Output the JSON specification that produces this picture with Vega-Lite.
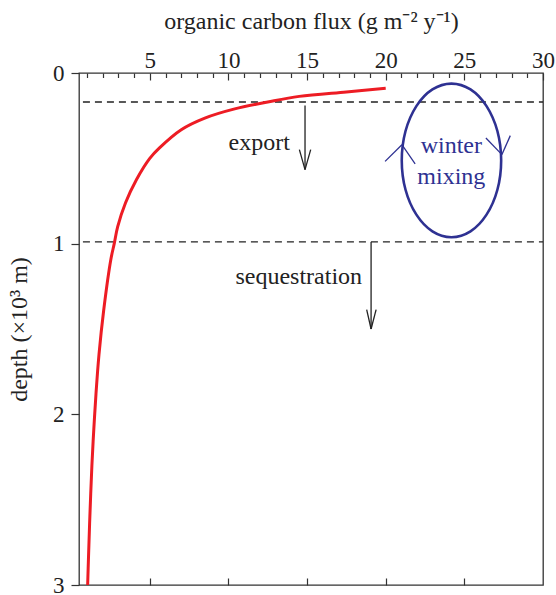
{
  "$schema": "https://vega.github.io/schema/vega-lite/v6.json",
  "width": 464,
  "height": 512,
  "autosize": {"type": "none"},
  "padding": {"left": 79, "top": 73, "right": 13, "bottom": 10},
  "background": "white",
  "config": {
    "view": {"stroke": "#333", "strokeWidth": 1.3},
    "font": "Liberation Serif",
    "axis": {"labelFont": "Liberation Serif", "titleFont": "Liberation Serif", "labelFontSize": 23, "titleFontSize": 24, "titleFontWeight": "normal", "labelColor": "#222", "titleColor": "#222", "tickColor": "#333", "tickWidth": 1.2, "domain": false, "grid": false}
  },
  "datasets": {
    "curve": [
      {"flux": 20.0, "depth": 0.09}, {"flux": 17.5, "depth": 0.111}, {"flux": 14.5, "depth": 0.137},
      {"flux": 12.5, "depth": 0.17}, {"flux": 10.4, "depth": 0.21}, {"flux": 8.5, "depth": 0.264},
      {"flux": 7.0, "depth": 0.332}, {"flux": 5.6, "depth": 0.44}, {"flux": 5.0, "depth": 0.5},
      {"flux": 4.15, "depth": 0.625}, {"flux": 3.46, "depth": 0.76}, {"flux": 2.96, "depth": 0.9},
      {"flux": 2.74, "depth": 1.0}, {"flux": 2.53, "depth": 1.09}, {"flux": 2.07, "depth": 1.39},
      {"flux": 1.77, "depth": 1.65}, {"flux": 1.58, "depth": 1.88}, {"flux": 1.44, "depth": 2.09},
      {"flux": 1.32, "depth": 2.3}, {"flux": 1.19, "depth": 2.6}, {"flux": 1.1, "depth": 2.85},
      {"flux": 1.05, "depth": 3.0}
    ],
    "levels": [
      {"flux": 0.75, "flux2": 30, "depth": 0.17},
      {"flux": 0.75, "flux2": 30, "depth": 0.99}
    ],
    "ellipse": [
      {"order": 0, "flux": 27.34, "depth": 0.512}, {"order": 1, "flux": 27.10, "depth": 0.684},
      {"order": 2, "flux": 26.41, "depth": 0.830}, {"order": 3, "flux": 25.39, "depth": 0.928},
      {"order": 4, "flux": 24.18, "depth": 0.962}, {"order": 5, "flux": 22.97, "depth": 0.928},
      {"order": 6, "flux": 21.95, "depth": 0.830}, {"order": 7, "flux": 21.26, "depth": 0.684},
      {"order": 8, "flux": 21.02, "depth": 0.512}, {"order": 9, "flux": 21.26, "depth": 0.340},
      {"order": 10, "flux": 21.95, "depth": 0.194}, {"order": 11, "flux": 22.97, "depth": 0.096},
      {"order": 12, "flux": 24.18, "depth": 0.062}, {"order": 13, "flux": 25.39, "depth": 0.096},
      {"order": 14, "flux": 26.41, "depth": 0.194}, {"order": 15, "flux": 27.10, "depth": 0.340}
    ],
    "arrows": [
      {"flux": 14.87, "depth": 0.19, "flux2": 14.87, "depth2": 0.566},
      {"flux": 14.51, "depth": 0.449, "flux2": 14.87, "depth2": 0.566},
      {"flux": 15.23, "depth": 0.449, "flux2": 14.87, "depth2": 0.566},
      {"flux": 19.07, "depth": 0.99, "flux2": 19.07, "depth2": 1.5},
      {"flux": 18.79, "depth": 1.386, "flux2": 19.07, "depth2": 1.5},
      {"flux": 19.39, "depth": 1.386, "flux2": 19.07, "depth2": 1.5}
    ],
    "flowticks": [
      {"flux": 19.96, "depth": 0.518, "flux2": 21.03, "depth2": 0.420},
      {"flux": 21.03, "depth": 0.420, "flux2": 21.87, "depth2": 0.533},
      {"flux": 26.37, "depth": 0.381, "flux2": 27.39, "depth2": 0.478},
      {"flux": 27.92, "depth": 0.367, "flux2": 27.39, "depth2": 0.478}
    ],
    "labels": [
      {"flux": 11.96, "depth": 0.45, "text": "export"},
      {"flux": 14.47, "depth": 1.235, "text": "sequestration"}
    ],
    "bluelabels": [
      {"flux": 24.17, "depth": 0.468, "text": "winter"},
      {"flux": 24.17, "depth": 0.648, "text": "mixing"}
    ]
  },
  "encoding": {
    "x": {
      "field": "flux", "type": "quantitative",
      "scale": {"domain": [0.5, 30], "nice": false, "zero": false},
      "axis": null
    },
    "y": {
      "field": "depth", "type": "quantitative",
      "scale": {"domain": [0, 3], "reverse": true, "nice": false, "zero": false},
      "axis": {
        "orient": "left",
        "title": "depth (×10³ m)",
        "titleFontWeight": "normal",
        "values": [0, 1, 2, 3],
        "tickSize": 8,
        "labelPadding": 7,
        "titlePadding": 21,
        "labelFlush": false
      }
    }
  },
  "layer": [
    {
      "data": {"name": "levels"},
      "mark": {"type": "rule", "color": "#222", "strokeWidth": 1.3, "strokeDash": [7, 5]},
      "encoding": {
        "x": {
          "field": "flux", "type": "quantitative",
          "scale": {"domain": [0.5, 30], "nice": false, "zero": false},
          "axis": {
            "orient": "top",
            "title": "organic carbon flux (g m⁻² y⁻¹)",
            "titleFontWeight": "normal",
            "values": [1,2,3,4,5,6,7,8,9,10,11,12,13,14,15,16,17,18,19,20,21,22,23,24,25,26,27,28,29,30],
            "labelExpr": "datum.value % 5 === 0 ? datum.label : ''",
            "tickSize": {"condition": {"test": "datum.value % 5 === 0", "value": -7}, "value": -4.5},
            "labelPadding": 8,
            "titlePadding": 16,
            "labelFlush": false
          }
        },
        "x2": {"field": "flux2"}
      }
    },
    {
      "data": {"name": "arrows"},
      "mark": {"type": "rule", "color": "#222", "strokeWidth": 1.3},
      "encoding": {
        "x": {
          "field": "flux", "type": "quantitative",
          "scale": {"domain": [0.5, 30], "nice": false, "zero": false},
          "axis": {"orient": "bottom", "title": null, "values": [5, 10, 15, 20, 25], "labels": false, "tickSize": -7}
        },
        "x2": {"field": "flux2"}, "y2": {"field": "depth2"}
      }
    },
    {
      "data": {"name": "curve"},
      "mark": {"type": "line", "color": "#ed1c24", "strokeWidth": 3, "interpolate": "catmull-rom"},
      "encoding": {"order": {"field": "depth", "type": "quantitative"}}
    },
    {
      "data": {"name": "ellipse"},
      "mark": {"type": "line", "color": "#2e3192", "strokeWidth": 2.6, "interpolate": "cardinal-closed"},
      "encoding": {"order": {"field": "order", "type": "quantitative"}}
    },
    {
      "data": {"name": "flowticks"},
      "mark": {"type": "rule", "color": "#2e3192", "strokeWidth": 1.3},
      "encoding": {"x2": {"field": "flux2"}, "y2": {"field": "depth2"}}
    },
    {
      "data": {"name": "labels"},
      "mark": {"type": "text", "font": "Liberation Serif", "fontSize": 24, "color": "#222", "align": "center", "baseline": "alphabetic"},
      "encoding": {"text": {"field": "text"}}
    },
    {
      "data": {"name": "bluelabels"},
      "mark": {"type": "text", "font": "Liberation Serif", "fontSize": 24, "color": "#2e3192", "align": "center", "baseline": "alphabetic"},
      "encoding": {"text": {"field": "text"}}
    }
  ]
}
